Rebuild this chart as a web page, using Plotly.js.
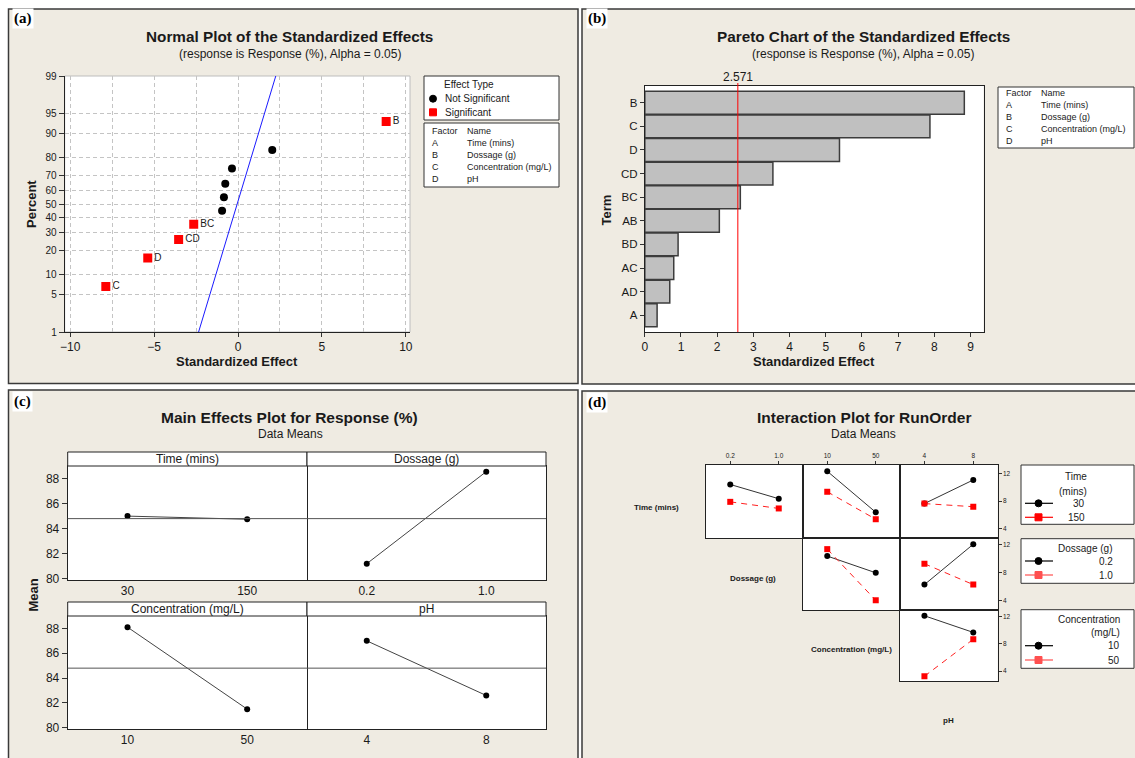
<!DOCTYPE html>
<html><head><meta charset="utf-8">
<script src="https://cdn.plot.ly/plotly-3.0.1.min.js"></script>
<style>html,body{margin:0;padding:0;background:#fff;overflow:hidden}</style>
</head><body><div id="chart" style="width:1135px;height:758px"></div>
<script>
// ================= DATA =================
// Factors
const factorCodes = ['A', 'B', 'C', 'D'];
const factorNames = ['Time (mins)', 'Dossage (g)', 'Concentration (mg/L)', 'pH'];

// (a) Normal plot of standardized effects
const sigEffects = [-7.88, -5.38, -3.54, -2.64, 8.83];
const sigPercents = [6.7, 16.3, 26.0, 35.6, 93.3];
const sigLabels = ['C', 'D', 'CD', 'BC', 'B'];
const nonsigEffects = [-0.95, -0.84, -0.76, -0.36, 2.04];
const nonsigPercents = [45.2, 54.8, 64.4, 74.0, 83.7];
const refLineEffect = [-2.35, 2.25];
const refLinePercent = [1, 99];
const percentTicks = [1, 5, 10, 20, 30, 40, 50, 60, 70, 80, 90, 95, 99];

// (b) Pareto chart
const paretoTerms = ['B', 'C', 'D', 'CD', 'BC', 'AB', 'BD', 'AC', 'AD', 'A'];
const paretoValues = [8.83, 7.88, 5.38, 3.54, 2.64, 2.06, 0.92, 0.80, 0.69, 0.34];
const paretoCritical = 2.571;

// (c) Main effects
const mainLevels = [['30', '150'], ['0.2', '1.0'], ['10', '50'], ['4', '8']];
const mainMeans = [[85.0, 84.75], [81.2, 88.55], [88.1, 81.5], [87.0, 82.6]];
const grandMean = 84.8;
const mainYTicks = [80, 82, 84, 86, 88];

// (d) Interaction plot (each: [low-level series, high-level series] over the column factor's two levels)
const timeVsDossage = [[10.4, 8.35], [7.9, 6.95]];
const timeVsConc = [[12.3, 6.4], [9.35, 5.4]];
const timeVsPH = [[7.65, 11.05], [7.65, 7.2]];
const dossVsConc = [[10.4, 8.0], [11.4, 4.05]];
const dossVsPH = [[6.3, 12.1], [9.3, 6.3]];
const concVsPH = [[12.15, 9.7], [3.25, 8.7]];
const interYTicks = [4, 8, 12];

// ================= HELPERS =================
const W = 1135, H = 758;
const FONT = 'Liberation Sans, Arial, sans-serif';
const TXT = '#1a1a1a';
const fx = x => x / W;
const fy = y => 1 - y / H;

function probit(p) {
  const a = [-3.969683028665376e+01, 2.209460984245205e+02, -2.759285104469687e+02, 1.383577518672690e+02, -3.066479806614716e+01, 2.506628277459239e+00];
  const b = [-5.447609879822406e+01, 1.615858368580409e+02, -1.556989798598866e+02, 6.680131188771972e+01, -1.328068155288572e+01];
  const c = [-7.784894002430293e-03, -3.223964580411365e-01, -2.400758277161838e+00, -2.549671010336160e+00, 4.374664141464968e+00, 2.938163982698783e+00];
  const d = [7.784695709041462e-03, 3.224671290700398e-01, 2.445134137142996e+00, 3.754408661907416e+00];
  const pl = 0.02425, ph = 1 - pl;
  let q, r;
  if (p < pl) { q = Math.sqrt(-2 * Math.log(p)); return (((((c[0]*q+c[1])*q+c[2])*q+c[3])*q+c[4])*q+c[5]) / ((((d[0]*q+d[1])*q+d[2])*q+d[3])*q+1); }
  if (p > ph) { q = Math.sqrt(-2 * Math.log(1 - p)); return -(((((c[0]*q+c[1])*q+c[2])*q+c[3])*q+c[4])*q+c[5]) / ((((d[0]*q+d[1])*q+d[2])*q+d[3])*q+1); }
  q = p - 0.5; r = q * q;
  return (((((a[0]*r+a[1])*r+a[2])*r+a[3])*r+a[4])*r+a[5])*q / (((((b[0]*r+b[1])*r+b[2])*r+b[3])*r+b[4])*r+1);
}
const pz = pct => probit(pct / 100);

const shapes = [];
const annotations = [];
const traces = [];
const layout = {
  width: W, height: H, margin: {l: 0, r: 0, t: 0, b: 0},
  paper_bgcolor: '#ffffff', plot_bgcolor: 'rgba(0,0,0,0)',
  showlegend: false, bargap: 0.03,
  font: {family: FONT, color: TXT, size: 11}
};

function rect(x0, y0, x1, y1, fill, lineColor, lw, layer) {
  shapes.push({type: 'rect', xref: 'paper', yref: 'paper', x0: fx(x0), x1: fx(x1), y0: fy(y1), y1: fy(y0),
    fillcolor: fill, line: {color: lineColor || 'rgba(0,0,0,0)', width: lw === undefined ? 1 : lw}, layer: layer || 'below'});
}
function pline(x0, y0, x1, y1, color, lw, dash) {
  shapes.push({type: 'line', xref: 'paper', yref: 'paper', x0: fx(x0), x1: fx(x1), y0: fy(y0), y1: fy(y1),
    line: {color: color, width: lw || 1, dash: dash || 'solid'}, layer: 'above'});
}
function circ(cx, cy, r, color) {
  shapes.push({type: 'circle', xref: 'paper', yref: 'paper', x0: fx(cx - r), x1: fx(cx + r), y0: fy(cy + r), y1: fy(cy - r),
    fillcolor: color, line: {color: color, width: 1}, layer: 'above'});
}
function sq(cx, cy, r, color) {
  shapes.push({type: 'rect', xref: 'paper', yref: 'paper', x0: fx(cx - r), x1: fx(cx + r), y0: fy(cy + r), y1: fy(cy - r),
    fillcolor: color, line: {color: color, width: 1}, layer: 'above'});
}
function ann(x, y, text, size, opts) {
  annotations.push(Object.assign({xref: 'paper', yref: 'paper', x: fx(x), y: fy(y), text: text, showarrow: false,
    xanchor: 'center', yanchor: 'middle', font: {family: FONT, size: size, color: TXT}}, opts || {}));
}
function panelLabel(x, y, t) {
  ann(x, y, '<b>' + t + '</b>', 15, {xanchor: 'left', bgcolor: '#ffffff', borderpad: 1,
    font: {family: 'Liberation Serif, Times New Roman, serif', size: 15, color: '#000'}});
}

// ================= PANEL BACKGROUNDS =================
const BEIGE = '#EFEBE2';
const BORDER = '#3a3a3a';
rect(8.5, 9, 578, 383.5, BEIGE, BORDER, 1.5);
rect(582, 9, 1137, 384, BEIGE, BORDER, 1.5);
rect(8.5, 390, 578, 762, BEIGE, BORDER, 1.5);
rect(582, 391, 1137, 762, BEIGE, BORDER, 1.5);

// ================= (a) NORMAL PLOT =================
const A = {l: 64.7, r: 410, t: 76, b: 332};
rect(A.l, A.t, A.r, A.b, '#ffffff', '#bdbdbd', 1);
const gridStyle = {gridcolor: '#c4c4c4', griddash: '4px,3px', gridwidth: 1};
layout.xaxis = Object.assign({domain: [fx(A.l), fx(A.r)], range: [-10.33, 10.25], anchor: 'y',
  tickmode: 'linear', tick0: 0, dtick: 5, ticks: 'outside', ticklen: 4, tickcolor: '#333',
  showline: true, linecolor: '#222', linewidth: 1, showgrid: true, zeroline: false,
  tickfont: {size: 12, color: TXT},
  minor: {tick0: 0, dtick: 2.5, showgrid: true, gridcolor: '#c4c4c4', griddash: '4px,3px', ticks: ''}}, gridStyle);
layout.yaxis = Object.assign({domain: [fy(A.b), fy(A.t)], range: [pz(1), pz(99)], anchor: 'x',
  tickmode: 'array', tickvals: percentTicks.map(pz), ticktext: percentTicks.map(String),
  ticks: 'outside', ticklen: 5, tickcolor: '#333', showline: true, linecolor: '#222', linewidth: 1,
  showgrid: true, zeroline: false, tickfont: {size: 10, color: TXT}}, gridStyle);

traces.push({type: 'scatter', mode: 'lines', x: refLineEffect, y: refLinePercent.map(pz), xaxis: 'x', yaxis: 'y',
  line: {color: '#1a1aff', width: 1}, hoverinfo: 'skip', cliponaxis: true});
traces.push({type: 'scatter', mode: 'markers', x: nonsigEffects, y: nonsigPercents.map(pz), xaxis: 'x', yaxis: 'y',
  marker: {symbol: 'circle', size: 8, color: '#000'}});
traces.push({type: 'scatter', mode: 'markers+text', x: sigEffects, y: sigPercents.map(pz), xaxis: 'x', yaxis: 'y',
  text: sigLabels, textposition: 'middle right', textfont: {size: 10, color: TXT, family: FONT},
  marker: {symbol: 'square', size: 9, color: '#ff0000'}});

panelLabel(12, 19, '(a)');
ann(289.7, 36, '<b>Normal Plot of the Standardized Effects</b>', 15.3);
ann(289.9, 53.5, '(response is Response (%), Alpha = 0.05)', 12);
ann(237, 362, '<b>Standardized Effect</b>', 13);
ann(31, 204, '<b>Percent</b>', 13, {textangle: -90});

// legend (a)
rect(424, 76, 559, 120, '#ffffff', '#333', 1, 'above');
ann(469, 85, 'Effect Type', 10);
circ(433, 98.7, 3.5, '#000');
ann(443, 98.7, 'Not Significant', 10, {xanchor: 'left'});
sq(433, 112.3, 3.5, '#ff0000');
ann(443, 112.3, 'Significant', 10, {xanchor: 'left'});
rect(424, 123, 559, 187, '#ffffff', '#333', 1, 'above');
ann(430, 130.7, 'Factor', 9, {xanchor: 'left'});
ann(465, 130.7, 'Name', 9, {xanchor: 'left'});
factorCodes.forEach((f, i) => {
  ann(430, 142.7 + 12 * i, f, 9, {xanchor: 'left'});
  ann(465, 142.7 + 12 * i, factorNames[i], 9, {xanchor: 'left'});
});

// ================= (b) PARETO =================
const B = {l: 644.8, r: 983.5, t: 86, b: 332};
rect(B.l, B.t, B.r, B.b, '#ffffff', null, 0);
layout.xaxis2 = {domain: [fx(B.l), fx(B.r)], range: [0, 9.36], anchor: 'y2', tickmode: 'linear', tick0: 0, dtick: 1,
  ticks: 'outside', ticklen: 4, tickcolor: '#333', showline: true, mirror: true, linecolor: '#222', linewidth: 1,
  showgrid: false, zeroline: false, tickfont: {size: 12, color: TXT}};
layout.yaxis2 = {domain: [fy(B.b), fy(B.t)], type: 'category', categoryarray: paretoTerms, categoryorder: 'array',
  range: [9.71, -0.71], anchor: 'x2', ticks: 'outside', ticklen: 4, tickcolor: '#333', showline: true, mirror: true,
  linecolor: '#222', linewidth: 1, showgrid: false, zeroline: false, tickfont: {size: 11.5, color: TXT}};
traces.push({type: 'bar', orientation: 'h', x: paretoValues, y: paretoTerms, xaxis: 'x2', yaxis: 'y2',
  marker: {color: '#c0c0c0', line: {color: '#3c3c3c', width: 1.5}}});
shapes.push({type: 'line', xref: 'x2', yref: 'paper', x0: paretoCritical, x1: paretoCritical, y0: fy(B.b), y1: fy(83),
  line: {color: '#ff0000', width: 1}, layer: 'above'});
annotations.push({xref: 'x2', yref: 'paper', x: paretoCritical, y: fy(77), text: paretoCritical.toFixed(3), showarrow: false,
  xanchor: 'center', yanchor: 'middle', font: {family: FONT, size: 12, color: TXT}});

panelLabel(586, 19, '(b)');
ann(863.4, 36, '<b>Pareto Chart of the Standardized Effects</b>', 15.3);
ann(862.7, 53.5, '(response is Response (%), Alpha = 0.05)', 12);
ann(813.6, 362, '<b>Standardized Effect</b>', 13);
ann(605.5, 210, '<b>Term</b>', 13, {textangle: -90});
rect(998, 87, 1134, 148, '#ffffff', '#333', 1, 'above');
ann(1003.7, 92.7, 'Factor', 9, {xanchor: 'left'});
ann(1038.8, 92.7, 'Name', 9, {xanchor: 'left'});
factorCodes.forEach((f, i) => {
  ann(1003.7, 104.7 + 12 * i, f, 9, {xanchor: 'left'});
  ann(1038.8, 104.7 + 12 * i, factorNames[i], 9, {xanchor: 'left'});
});

// ================= (c) MAIN EFFECTS =================
const cCols = [[67.7, 307], [307, 546]];
const cRows = [{st: 452, t: 466, b: 580}, {st: 602, t: 616, b: 729}];
mainLevels.forEach((lv, i) => {
  const col = i % 2, row = Math.floor(i / 2);
  const xs = cCols[col], rs = cRows[row];
  const k = 3 + i;
  rect(xs[0], rs.t, xs[1], rs.b, '#ffffff', null, 0);
  rect(xs[0], rs.st, xs[1], rs.t, '#ffffff', '#222', 1, 'above');
  ann((xs[0] + xs[1]) / 2, (rs.st + rs.t) / 2, factorNames[i], 12);
  layout['xaxis' + k] = {domain: [fx(xs[0]), fx(xs[1])], type: 'category', categoryarray: lv, categoryorder: 'array',
    range: [-0.5, 1.5], anchor: 'y' + k, ticks: '', showline: true, mirror: true, linecolor: '#222', linewidth: 1,
    showgrid: false, zeroline: false, tickfont: {size: 12, color: TXT}};
  layout['yaxis' + k] = {domain: [fy(rs.b), fy(rs.t)], range: [79.9, 89.0], anchor: 'x' + k,
    side: col === 0 ? 'left' : 'right',
    tickmode: 'array', tickvals: mainYTicks, ticks: col === 0 ? 'outside' : '', ticklen: 5, tickcolor: '#333',
    showticklabels: col === 0, showline: true, mirror: col === 0, linecolor: '#222', linewidth: 1,
    showgrid: false, zeroline: false, tickfont: {size: 12, color: TXT}};
  shapes.push({type: 'line', xref: 'x' + k + ' domain', yref: 'y' + k, x0: 0, x1: 1, y0: grandMean, y1: grandMean,
    line: {color: '#555', width: 1}, layer: 'above'});
  traces.push({type: 'scatter', mode: 'lines+markers', x: lv, y: mainMeans[i], xaxis: 'x' + k, yaxis: 'y' + k,
    line: {color: '#444', width: 1}, marker: {color: '#000', size: 6}});
});
panelLabel(12, 401, '(c)');
ann(289, 417.5, '<b>Main Effects Plot for Response (%)</b>', 15.5);
ann(290, 434.5, 'Data Means', 12);
ann(32.6, 595, '<b>Mean</b>', 13, {textangle: -90});

// ================= (d) INTERACTION =================
const dCols = [[706, 803], [803, 900], [900, 997.7]];
const dRows = [[465, 538], [538, 610], [610, 681]];
const dRanges = [[2.7, 13.2], [2.65, 13.0], [2.55, 13.0]];
const cells = [
  {row: 0, col: 0, data: timeVsDossage, xf: 1},
  {row: 0, col: 1, data: timeVsConc, xf: 2},
  {row: 0, col: 2, data: timeVsPH, xf: 3},
  {row: 1, col: 1, data: dossVsConc, xf: 2},
  {row: 1, col: 2, data: dossVsPH, xf: 3},
  {row: 2, col: 2, data: concVsPH, xf: 3}
];
cells.forEach((c, j) => {
  const k = 7 + j;
  const xs = dCols[c.col], ys = dRows[c.row];
  rect(xs[0], ys[0], xs[1], ys[1], '#ffffff', null, 0);
  layout['xaxis' + k] = {domain: [fx(xs[0]), fx(xs[1])], type: 'category', categoryarray: mainLevels[c.xf], categoryorder: 'array',
    range: [-0.5, 1.5], anchor: 'y' + k, side: 'top', ticks: c.row === 0 ? 'outside' : '', ticklen: 3, tickcolor: '#333',
    showticklabels: c.row === 0, showline: true, mirror: true, linecolor: '#222', linewidth: 1,
    showgrid: false, zeroline: false, tickfont: {size: 6.5, color: TXT}};
  layout['yaxis' + k] = {domain: [fy(ys[1]), fy(ys[0])], range: dRanges[c.row], anchor: 'x' + k, side: 'right',
    tickmode: 'array', tickvals: interYTicks, ticks: c.col === 2 ? 'outside' : '', ticklen: 3, tickcolor: '#333',
    showticklabels: c.col === 2, showline: true, mirror: true, linecolor: '#222', linewidth: 1,
    showgrid: false, zeroline: false, tickfont: {size: 6.5, color: TXT}};
  traces.push({type: 'scatter', mode: 'lines+markers', x: mainLevels[c.xf], y: c.data[0], xaxis: 'x' + k, yaxis: 'y' + k,
    line: {color: '#333', width: 1}, marker: {symbol: 'circle', color: '#000', size: 6}});
  traces.push({type: 'scatter', mode: 'lines+markers', x: mainLevels[c.xf], y: c.data[1], xaxis: 'x' + k, yaxis: 'y' + k,
    line: {color: '#ff2020', width: 1, dash: '6px,5px'}, marker: {symbol: 'square', color: '#ff0000', size: 6}});
});
panelLabel(586, 402, '(d)');
ann(863.5, 417.5, '<b>Interaction Plot for RunOrder</b>', 15.5);
ann(863.7, 434.5, 'Data Means', 12);
ann(656, 507, '<b>' + factorNames[0] + '</b>', 8);
ann(753, 578, '<b>' + factorNames[1] + '</b>', 8);
ann(851.7, 649.3, '<b>' + factorNames[2] + '</b>', 8);
ann(948.5, 720, '<b>' + factorNames[3] + '</b>', 8);

// legends (d)
function legendRow(y, marker, color, label, rightX) {
  pline(1025, y, 1053, y, color, 1.2);
  if (marker === 'circle') circ(1038.5, y, 3.5, color);
  else sq(1038.5, y, 3.5, color);
  ann(rightX, y, label, 10, {xanchor: 'right'});
}
rect(1021, 465, 1134, 524.3, '#ffffff', '#333', 1, 'above');
ann(1089, 476.5, 'Time', 10, {xanchor: 'right'});
ann(1089, 491, '(mins)', 10, {xanchor: 'right'});
legendRow(503.3, 'circle', '#000', mainLevels[0][0], 1087);
legendRow(517.3, 'square', '#ff0000', mainLevels[0][1], 1087);

rect(1021, 538.7, 1134, 583.3, '#ffffff', '#333', 1, 'above');
ann(1114, 548.3, factorNames[1], 10, {xanchor: 'right'});
legendRow(561, 'circle', '#000', mainLevels[1][0], 1115);
legendRow(575, 'square', '#ff5050', mainLevels[1][1], 1115);

rect(1021, 609.7, 1134, 668.3, '#ffffff', '#333', 1, 'above');
ann(1122, 619, 'Concentration', 10, {xanchor: 'right'});
ann(1122, 632.7, '(mg/L)', 10, {xanchor: 'right'});
legendRow(645.7, 'circle', '#000', mainLevels[2][0], 1122);
legendRow(660, 'square', '#ff5050', mainLevels[2][1], 1122);

layout.shapes = shapes;
layout.annotations = annotations;
Plotly.newPlot('chart', traces, layout, {displayModeBar: false, staticPlot: true});
</script>
</body></html>
